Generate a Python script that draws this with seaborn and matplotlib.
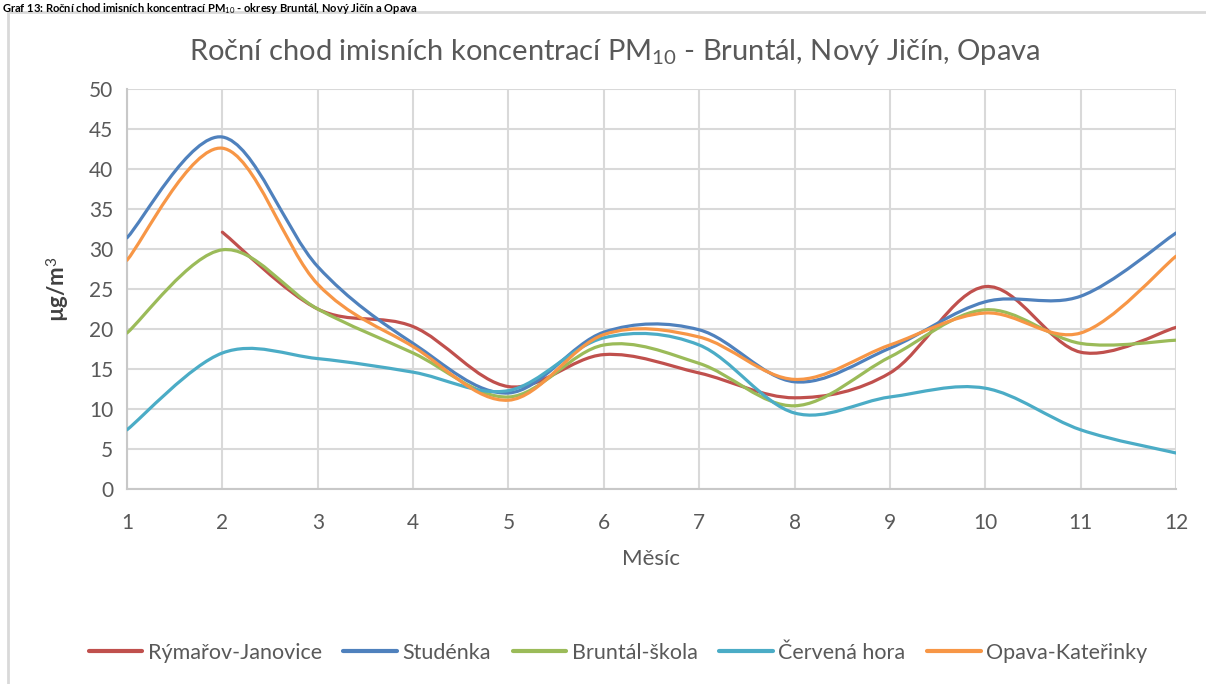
import numpy as np
import pandas as pd
import seaborn as sns
from matplotlib import pyplot as plt
from matplotlib.path import Path
from matplotlib.patches import PathPatch, Rectangle
from matplotlib.lines import Line2D

# Data (monthly means, µg/m3)
months = list(range(1, 13))
rymarov = [np.nan, 32.1, 22.5, 20.3, 12.8, 16.8, 14.5, 11.4, 14.5, 25.3, 17.1, 20.2]
studenka = [31.4, 44.0, 27.8, 18.2, 12.0, 19.6, 19.9, 13.4, 17.6, 23.4, 24.1, 32.0]
bruntal = [19.5, 29.9, 22.5, 17.0, 11.5, 18.0, 15.7, 10.4, 16.5, 22.4, 18.2, 18.6]
cervena = [7.4, 17.0, 16.3, 14.6, 12.3, 18.9, 18.0, 9.5, 11.5, 12.6, 7.4, 4.5]
opava = [28.6, 42.6, 25.6, 17.8, 11.1, 19.3, 19.0, 13.7, 18.0, 22.0, 19.5, 29.1]

series_names = ["Rýmařov-Janovice", "Studénka", "Bruntál-škola", "Červená hora", "Opava-Kateřinky"]
series_values = [rymarov, studenka, bruntal, cervena, opava]
colors = ["#C0504D", "#4F81BD", "#9BBB59", "#4BACC6", "#F79646"]

TEXT = "#595959"
GRID = "#D9D9D9"


def smooth_path(x, y):
    """Excel-like smoothed line: cubic Bezier segments through the points."""
    pts = np.column_stack([x, y])
    pts = pts[~np.isnan(pts[:, 1])]
    n = len(pts)
    verts = [pts[0]]
    codes = [Path.MOVETO]
    for i in range(n - 1):
        p0 = pts[max(i - 1, 0)]
        p1 = pts[i]
        p2 = pts[i + 1]
        p3 = pts[min(i + 2, n - 1)]
        c1 = p1 + (p2 - p0) / 6.0
        c2 = p2 - (p3 - p1) / 6.0
        verts += [c1, c2, p2]
        codes += [Path.CURVE4] * 3
    return Path(verts, codes)


def main():
    sns.set_theme(style="white")
    plt.rcParams["font.family"] = ["Lato", "DejaVu Sans"]
    plt.rcParams["mathtext.fontset"] = "custom"
    plt.rcParams["mathtext.rm"] = "Lato"
    plt.rcParams["mathtext.it"] = "Lato"
    plt.rcParams["mathtext.bf"] = "Lato:bold"

    df = pd.DataFrame({"Měsíc": months * len(series_names),
                       "Hodnota": sum(series_values, []),
                       "Stanice": np.repeat(series_names, len(months))})

    fig = plt.figure(figsize=(12.06, 6.84), dpi=100)
    ax = fig.add_axes([127 / 1206, 1 - 489 / 684, 1049 / 1206, 400 / 684])

    # seaborn sets up scales; the visible curves are smoothed like in Excel
    sns.lineplot(data=df, x="Měsíc", y="Hodnota", hue="Stanice", palette=colors,
                 hue_order=series_names, ax=ax, legend=False, linewidth=0)
    for line in list(ax.lines):
        line.remove()
    for vals, col in zip(series_values, colors):
        patch = PathPatch(smooth_path(np.array(months, float), np.array(vals, float)),
                          facecolor="none", edgecolor=col, linewidth=2.3,
                          capstyle="round", joinstyle="round", zorder=3)
        ax.add_patch(patch)

    ax.set_xlim(1, 12)
    ax.set_ylim(0, 50)
    ax.set_xticks(months)
    ax.set_yticks(range(0, 51, 5))
    ax.grid(True, color=GRID, linewidth=1.5)
    ax.set_axisbelow(True)
    for side in ["top", "right"]:
        ax.spines[side].set_visible(False)
    for side in ["left", "bottom"]:
        ax.spines[side].set_color("#C8C8C8")
        ax.spines[side].set_linewidth(1.5)
    ax.tick_params(axis="both", colors=TEXT, labelsize=15, length=0)
    ax.tick_params(axis="x", pad=17)
    ax.tick_params(axis="y", pad=10)

    ax.set_xlabel("Měsíc", fontsize=16, color=TEXT, labelpad=12)
    ax.set_ylabel("µg/m$^3$", fontsize=16, color="#404040", fontweight="bold", labelpad=12)
    fig.text(615 / 1206, 1 - 52 / 684,
             "Roční chod imisních koncentrací PM$_{10}$ - Bruntál, Nový Jičín, Opava",
             fontsize=21, color=TEXT, ha="center", va="center")

    handles = [Line2D([], [], color=c, linewidth=3) for c in colors]
    fig.legend(handles, series_names, loc="center", bbox_to_anchor=(618 / 1206, 1 - 653 / 684),
               ncol=5, frameon=False, fontsize=15.5, handlelength=2.5, handletextpad=0.25,
               columnspacing=1.0, labelcolor=TEXT)

    # chart frame and the caption above it
    fig.patches.append(Rectangle((8 / 1206, -0.05), 1.2, 0.05 + 1 - 12 / 684,
                                 transform=fig.transFigure, fill=False,
                                 edgecolor=GRID, linewidth=2))
    fig.text(0.002, 0.999, "Graf 13: Roční chod imisních koncentrací PM$_{10}$ - okresy Bruntál, Nový Jičín a Opava",
             fontsize=8, color="black", fontweight="bold", va="top", ha="left")

    fig.savefig("out.png", dpi=100)


if __name__ == "__main__":
    main()
